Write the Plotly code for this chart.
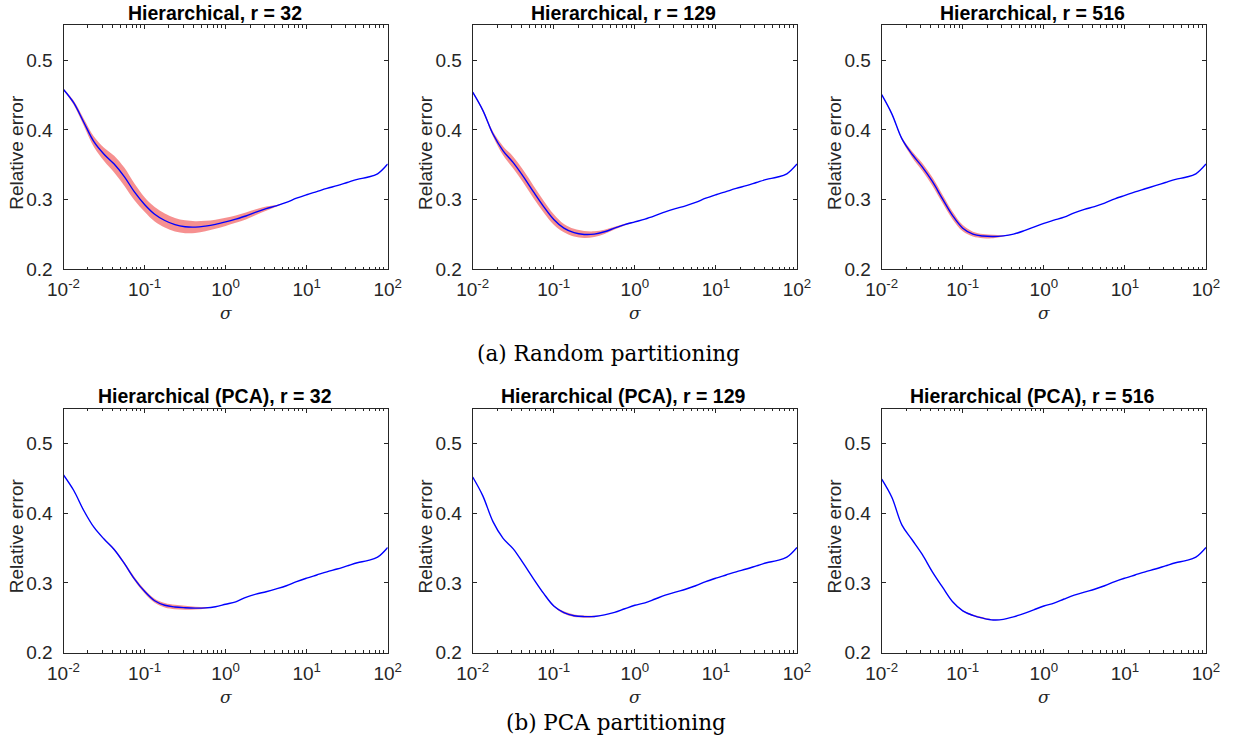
import plotly.graph_objects as go

W, H = 1233, 750

# sigma grid (log10 sigma from -2 to 2 in steps of 1/8)
log_sigma = [-2.000, -1.875, -1.750, -1.625, -1.500, -1.375, -1.250, -1.125,
             -1.000, -0.875, -0.750, -0.625, -0.500, -0.375, -0.250, -0.125,
             0.000, 0.125, 0.250, 0.375, 0.500, 0.625, 0.750, 0.875,
             1.000, 1.125, 1.250, 1.375, 1.500, 1.625, 1.750, 1.875, 2.000]
sigma = [10 ** v for v in log_sigma]

titles = ["Hierarchical, r = 32", "Hierarchical, r = 129", "Hierarchical, r = 516",
          "Hierarchical (PCA), r = 32", "Hierarchical (PCA), r = 129", "Hierarchical (PCA), r = 516"]

# mean relative error
rand_32 = [0.458, 0.439, 0.411, 0.383, 0.365, 0.351, 0.333, 0.311,
           0.293, 0.279, 0.270, 0.264, 0.261, 0.2605, 0.262, 0.2645,
           0.268, 0.272, 0.2765, 0.282, 0.287, 0.291, 0.296, 0.302,
           0.307, 0.3115, 0.316, 0.320, 0.3245, 0.329, 0.332, 0.337, 0.351]
rand_129 = [0.454, 0.428, 0.394, 0.370, 0.353, 0.333, 0.311, 0.290,
            0.2715, 0.259, 0.2525, 0.250, 0.2505, 0.2538, 0.259, 0.264,
            0.268, 0.272, 0.277, 0.2825, 0.287, 0.291, 0.296, 0.302,
            0.307, 0.3115, 0.316, 0.320, 0.3245, 0.329, 0.332, 0.337, 0.351]
rand_516 = [0.4505, 0.423, 0.387, 0.365, 0.347, 0.326, 0.301, 0.277,
            0.259, 0.2505, 0.2477, 0.247, 0.248, 0.2505, 0.255, 0.2605,
            0.266, 0.2705, 0.2748, 0.281, 0.286, 0.290, 0.295, 0.301,
            0.306, 0.311, 0.3155, 0.320, 0.3245, 0.329, 0.332, 0.337, 0.351]
pca_32 = [0.455, 0.433, 0.404, 0.380, 0.363, 0.348, 0.328, 0.306,
          0.288, 0.2745, 0.268, 0.2655, 0.2645, 0.264, 0.2643, 0.266,
          0.2695, 0.273, 0.2795, 0.284, 0.2875, 0.2915, 0.296, 0.302,
          0.307, 0.3115, 0.316, 0.320, 0.3245, 0.329, 0.332, 0.337, 0.351]
pca_129 = [0.452, 0.425, 0.388, 0.364, 0.349, 0.328, 0.306, 0.285,
           0.267, 0.2575, 0.253, 0.2518, 0.252, 0.2542, 0.2578, 0.263,
           0.268, 0.2715, 0.277, 0.2825, 0.287, 0.291, 0.296, 0.302,
           0.307, 0.3115, 0.316, 0.320, 0.3245, 0.329, 0.332, 0.337, 0.351]
pca_516 = [0.449, 0.423, 0.383, 0.362, 0.341, 0.316, 0.294, 0.273,
           0.260, 0.2535, 0.2495, 0.247, 0.2478, 0.2515, 0.256, 0.2615,
           0.267, 0.2712, 0.277, 0.2825, 0.287, 0.291, 0.296, 0.302,
           0.307, 0.3115, 0.316, 0.320, 0.3245, 0.329, 0.332, 0.337, 0.351]

# half-width of the spread band
err_rand_32 = [0.001, 0.003, 0.005, 0.0075, 0.0095, 0.012, 0.013, 0.012,
               0.0105, 0.0105, 0.010, 0.0097, 0.0092, 0.0085, 0.0075, 0.0065,
               0.0058, 0.0052, 0.005, 0.004, 0.003, 0.0012, 0, 0,
               0, 0, 0, 0, 0, 0, 0, 0, 0]
err_rand_129 = [0.001, 0.002, 0.0035, 0.0065, 0.0085, 0.009, 0.009, 0.0085,
                0.0075, 0.006, 0.0055, 0.005, 0.004, 0.003, 0.002, 0.0012,
                0.0005, 0, 0, 0, 0, 0, 0, 0,
                0, 0, 0, 0, 0, 0, 0, 0, 0]
err_rand_516 = [0, 0.001, 0.002, 0.0045, 0.0055, 0.006, 0.006, 0.0055,
                0.0045, 0.0035, 0.003, 0.0025, 0.001, 0, 0, 0,
                0, 0, 0, 0, 0, 0, 0, 0,
                0, 0, 0, 0, 0, 0, 0, 0, 0]
err_pca_32 = [0, 0, 0, 0, 0.0008, 0.0015, 0.002, 0.0025,
              0.0028, 0.003, 0.0032, 0.0032, 0.0028, 0.002, 0.0012, 0,
              0, 0, 0, 0, 0, 0, 0, 0,
              0, 0, 0, 0, 0, 0, 0, 0, 0]
err_pca_129 = [0, 0, 0, 0, 0, 0, 0, 0.0008,
               0.0012, 0.0018, 0.0018, 0.0015, 0.001, 0, 0, 0,
               0, 0, 0, 0, 0, 0, 0, 0,
               0, 0, 0, 0, 0, 0, 0, 0, 0]
err_pca_516 = [0, 0, 0, 0, 0, 0, 0, 0,
               0.0008, 0.0012, 0.0012, 0.0006, 0, 0, 0, 0,
               0, 0, 0, 0, 0, 0, 0, 0,
               0, 0, 0, 0, 0, 0, 0, 0, 0]

means = [rand_32, rand_129, rand_516, pca_32, pca_129, pca_516]
errs = [err_rand_32, err_rand_129, err_rand_516, err_pca_32, err_pca_129, err_pca_516]

x_ticks = [0.01, 0.1, 1, 10, 100]
x_ticktext = ["10<sup>-2</sup>", "10<sup>-1</sup>", "10<sup>0</sup>", "10<sup>1</sup>", "10<sup>2</sup>"]
x_minor = [m * 10 ** e for e in (-2, -1, 0, 1) for m in range(2, 10)]
y_ticks = [0.2, 0.3, 0.4, 0.5]
y_ticktext = ["0.2", "0.3", "0.4", "0.5"]
captions = ["(a) Random partitioning", "(b) PCA partitioning"]

# layout geometry (pixels)
col_left = [63.5, 472.7, 881.7]
col_right = [387.7, 797.0, 1206.0]
row_top = [25.3, 408.7]
row_bot = [269.3, 652.7]

AX = "#262626"
tick_font = dict(family="Liberation Sans, Arial, sans-serif", size=19, color=AX)

fig = go.Figure()
layout = dict(width=W, height=H, autosize=False,
              margin=dict(l=0, r=0, t=0, b=0, pad=0, autoexpand=False),
              paper_bgcolor="white", plot_bgcolor="white", showlegend=False)
annotations = []

for i in range(6):
    r, c = divmod(i, 3)
    n = i + 1
    xa = "x" if n == 1 else f"x{n}"
    ya = "y" if n == 1 else f"y{n}"
    lo = [m - e for m, e in zip(means[i], errs[i])]
    hi = [m + e for m, e in zip(means[i], errs[i])]
    fig.add_trace(go.Scatter(x=sigma, y=lo, mode="lines", line=dict(width=0, shape="spline"),
                             xaxis=xa, yaxis=ya, hoverinfo="skip"))
    fig.add_trace(go.Scatter(x=sigma, y=hi, mode="lines", line=dict(width=0, shape="spline"),
                             fill="tonexty", fillcolor="rgba(245,125,125,0.85)",
                             xaxis=xa, yaxis=ya, hoverinfo="skip"))
    fig.add_trace(go.Scatter(x=sigma, y=means[i], mode="lines",
                             line=dict(color="#0000FF", width=1.4, shape="spline"),
                             xaxis=xa, yaxis=ya))
    xd = [col_left[c] / W, col_right[c] / W]
    yd = [1 - row_bot[r] / H, 1 - row_top[r] / H]
    key = "" if n == 1 else str(n)
    layout["xaxis" + key] = dict(
        type="log", range=[-2, 2], domain=xd, anchor=ya, automargin=False,
        showline=True, linecolor=AX, linewidth=1, mirror="ticks",
        ticks="inside", ticklen=4, tickcolor=AX, tickwidth=1,
        tickmode="array", tickvals=x_ticks, ticktext=x_ticktext,
        tickfont=tick_font, showgrid=False, zeroline=False, ticklabelstandoff=3,
        minor=dict(ticks="inside", ticklen=2.5, tickcolor=AX, tickmode="array",
                   tickvals=x_minor, showgrid=False))
    layout["yaxis" + key] = dict(
        range=[0.2, 0.55], domain=yd, anchor=xa, automargin=False,
        showline=True, linecolor=AX, linewidth=1, mirror="ticks",
        ticks="inside", ticklen=4, tickcolor=AX, tickwidth=1,
        tickmode="array", tickvals=y_ticks, ticktext=y_ticktext,
        tickfont=tick_font, showgrid=False, zeroline=False, ticklabelstandoff=6)
    cx = (col_left[c] + col_right[c]) / 2
    # subplot title (top of box at plot top - 25 px)
    annotations.append(dict(text="<b>" + titles[i] + "</b>", xref="paper", yref="paper",
                            x=(cx - 11) / W, y=1 - (row_top[r] - 25.3) / H, xanchor="center", yanchor="top",
                            showarrow=False, font=dict(family="Liberation Sans, Arial, sans-serif",
                                                       size=19.5, color="black")))
    # x label
    annotations.append(dict(text="<i>σ</i>", xref="paper", yref="paper",
                            x=cx / W, y=1 - (row_bot[r] + 44) / H, xanchor="center", yanchor="middle",
                            showarrow=False, font=dict(family="DejaVu Serif, serif", size=17, color=AX)))
    # y label
    annotations.append(dict(text="Relative error", xref="paper", yref="paper",
                            x=(col_left[c] - 47) / W, y=1 - ((row_top[r] + row_bot[r]) / 2 + 5) / H,
                            xanchor="center", yanchor="middle", textangle=-90,
                            showarrow=False, font=dict(family="Liberation Sans, Arial, sans-serif",
                                                       size=19, color=AX)))

annotations.append(dict(text=captions[0], xref="paper", yref="paper", x=608 / W, y=1 - 353 / H,
                        xanchor="center", yanchor="middle", showarrow=False,
                        font=dict(family="DejaVu Serif, serif", size=21.5, color="black")))
annotations.append(dict(text=captions[1], xref="paper", yref="paper", x=616 / W, y=1 - 722 / H,
                        xanchor="center", yanchor="middle", showarrow=False,
                        font=dict(family="DejaVu Serif, serif", size=21.5, color="black")))
layout["annotations"] = annotations
fig.update_layout(**layout)
fig.write_html("out.html", config={"displayModeBar": False},
               post_script="document.body.style.margin='0px';document.body.style.overflow='hidden';")
